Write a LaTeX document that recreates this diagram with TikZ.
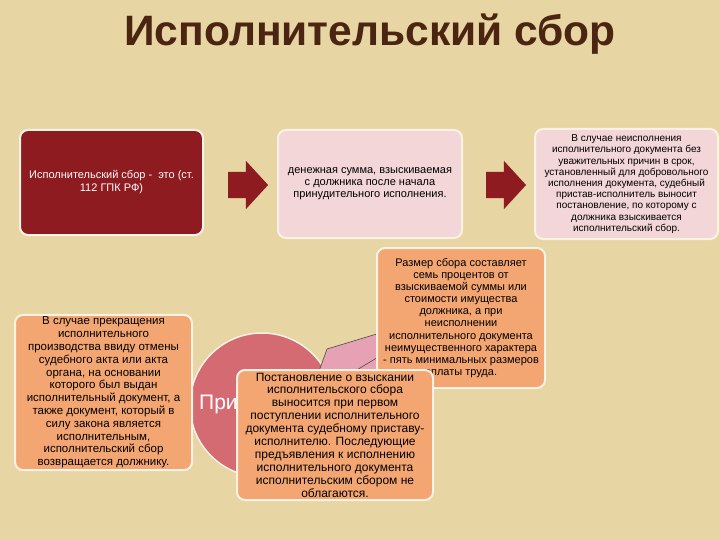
\documentclass[tikz,border=0pt]{standalone}
\usepackage{fontspec}
\setmainfont{Liberation Sans}
\usetikzlibrary{shapes.arrows}
\definecolor{bg}{RGB}{231,213,163}
\definecolor{titlec}{RGB}{75,36,18}
\definecolor{darkred}{RGB}{142,27,31}
\definecolor{lpink}{RGB}{243,214,216}
\definecolor{orangec}{RGB}{244,166,114}
\definecolor{circc}{RGB}{212,106,114}
\definecolor{wedgec}{RGB}{231,161,180}
\definecolor{edgec}{RGB}{250,242,228}
\tikzset{
  box/.style={rounded corners=8pt, draw=edgec, line width=2pt, align=center, inner sep=2pt},
  redbox/.style={box, fill=darkred, text=white, font=\fontsize{11}{13}\selectfont},
  pinkbox/.style={box, fill=lpink, text=black},
  orbox/.style={box, fill=orangec, text=black},
  blockarrow/.style={single arrow, fill=darkred, draw=none, inner sep=13pt, minimum height=40pt, single arrow head extend=11pt, single arrow tip angle=95},
}
\begin{document}
\begin{tikzpicture}[x=1pt,y=-1pt]
\useasboundingbox (0,0) rectangle (720,540);
\fill[bg] (0,0) rectangle (720,540);
% title
\node[font=\fontsize{42.5}{44}\selectfont\bfseries, text=titlec, anchor=base] (title) at (370,46) {Исполнительский сбор};
% top row
\node[redbox, minimum width=183pt, minimum height=105pt] (b1) at (111.5,182.5) {Исполнительский сбор -\ \ это (ст.\\112 ГПК РФ)};
\node[pinkbox, minimum width=184pt, minimum height=108pt, font=\fontsize{11}{12}\selectfont] (b2) at (370,184) {денежная сумма, взыскиваемая\\с должника после начала\\принудительного исполнения.};
\node[pinkbox, minimum width=183pt, minimum height=110pt, font=\fontsize{10}{11.2}\selectfont] (b3) at (626.5,184) {В случае неисполнения\\исполнительного документа без\\уважительных причин в срок,\\установленный для добровольного\\исполнения документа, судебный\\пристав-исполнитель выносит\\постановление, по которому с\\должника взыскивается\\исполнительский сбор.};
\node[blockarrow] (a1) at (242,185) {};
\node[blockarrow] (a2) at (500,185) {};
% circle
\node[circle, fill=circc, draw=edgec, line width=1.5pt, minimum size=144pt, inner sep=0pt] (c) at (262,405) {};
\node[anchor=west, text=white, font=\fontsize{21}{22}\selectfont, inner sep=0pt] (pri) at (199,404) {При};
% wedge
\filldraw[fill=wedgec, draw=black!70, line width=0.6pt] (380,333) -- (327,349) -- (318,374) -- (380,374) -- cycle;
\draw[black!70, line width=0.6pt] (380,356) -- (350,374);
% left box
\node[orbox, minimum width=177pt, minimum height=149pt, font=\fontsize{11.5}{12.8}\selectfont] (b5) at (103.5,392.5) {В случае прекращения\\исполнительного\\производства ввиду отмены\\судебного акта или акта\\органа, на основании\\которого был выдан\\исполнительный документ, а\\также документ, который в\\силу закона является\\исполнительным,\\исполнительский сбор\\возвращается должнику.};
% size box
\node[orbox, minimum width=168pt, minimum height=140pt, font=\fontsize{11}{12.1}\selectfont] (b4) at (461,318) {Размер сбора составляет\\семь процентов от\\взыскиваемой суммы или\\стоимости имущества\\должника, а при\\неисполнении\\исполнительного документа\\неимущественного характера\\- пять минимальных размеров\\оплаты труда.};
% decree box
\node[orbox, minimum width=196pt, minimum height=130pt, font=\fontsize{12}{12.9}\selectfont] (b6) at (335,435) {Постановление о взыскании\\исполнительского сбора\\выносится при первом\\поступлении исполнительного\\документа судебному приставу-\\исполнителю. Последующие\\предъявления к исполнению\\исполнительного документа\\исполнительским сбором не\\облагаются.};
\end{tikzpicture}
\end{document}
